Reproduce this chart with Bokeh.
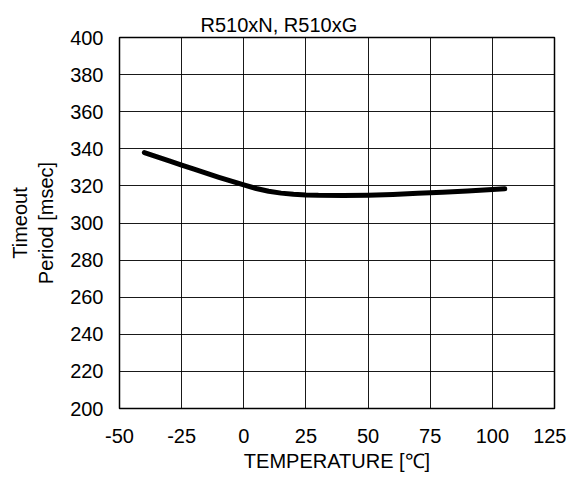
from bokeh.plotting import figure
from bokeh.models import Range1d, FixedTicker
from bokeh.embed import file_html
from bokeh.resources import INLINE

temperature = [-40, -30, -25, -20, -10, 0, 5, 10, 15, 20, 25, 30, 40, 50, 60, 70, 80, 90, 100, 105]
period = [338.0, 333.5, 331.2, 329.0, 324.6, 320.5, 318.6, 317.1, 316.1, 315.5, 315.1, 314.9, 314.8, 315.0, 315.4, 316.0, 316.6, 317.3, 318.0, 318.4]
x_ticks = [-50, -25, 0, 25, 50, 75, 100, 125]
x_tick_labels = ["-50", "-25", "0", "25", "50", "75", "100", "125"]
y_ticks = [200, 220, 240, 260, 280, 300, 320, 340, 360, 380, 400]

FONT = "Liberation Sans"
FS = "20px"

p = figure(width=566, height=475, frame_width=435, frame_height=371,
           output_backend="svg", toolbar_location=None,
           x_range=Range1d(-50, 125), y_range=Range1d(200, 400),
           min_border_left=119, min_border_top=37, min_border_right=12, min_border_bottom=67,
           background_fill_color="white", border_fill_color="white")

p.title.text = "R510xN, R510xG"
p.title.text_font = FONT
p.title.text_font_size = FS
p.title.text_font_style = "normal"
p.title.text_color = "black"
p.title.align = "left"
p.title.offset = 81
p.title.standoff = 4

p.line(temperature, period, line_width=5, line_color="black", line_cap="round", line_join="round")

for ax in (p.xaxis[0], p.yaxis[0]):
    ax.major_label_text_font = FONT
    ax.major_label_text_font_size = FS
    ax.major_label_text_color = "black"
    ax.axis_label_text_font = FONT
    ax.axis_label_text_font_size = FS
    ax.axis_label_text_font_style = "normal"
    ax.axis_label_text_color = "black"
    ax.axis_line_color = "black"
    ax.major_tick_line_color = None
    ax.major_tick_in = 0
    ax.major_tick_out = 0
    ax.minor_tick_line_color = None

p.xaxis.ticker = FixedTicker(ticks=x_ticks)
p.yaxis.ticker = FixedTicker(ticks=y_ticks)
p.xaxis.major_label_overrides = {t: s for t, s in zip(x_ticks, x_tick_labels)}
p.xaxis.axis_label = "TEMPERATURE [\u2103]"
p.yaxis.axis_label = "Timeout\nPeriod [msec]"
p.xaxis.major_label_standoff = 20
p.yaxis.major_label_standoff = 16
p.xaxis.axis_label_standoff = 4
p.yaxis.axis_label_standoff = 10

p.xgrid.ticker = FixedTicker(ticks=x_ticks)
p.ygrid.ticker = FixedTicker(ticks=y_ticks)
p.grid.grid_line_color = "black"
p.grid.grid_line_width = 1
p.grid.grid_line_alpha = 0.9

p.outline_line_color = "black"
p.outline_line_width = 1.5

open("out.html", "w").write(file_html(p, INLINE))
